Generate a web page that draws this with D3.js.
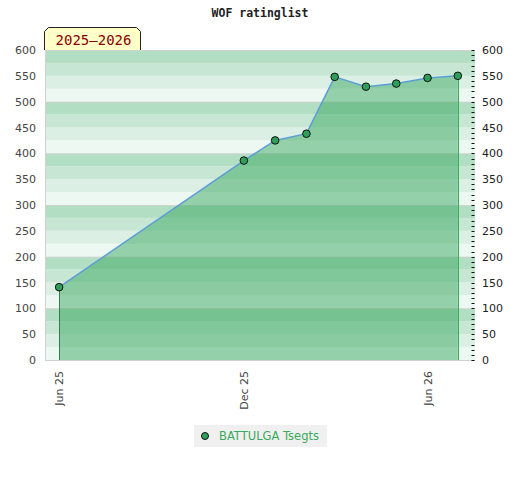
<!DOCTYPE html>
<html>
<head>
    <title>WOF ratinglist</title>
    <script src="https://d3js.org/d3.v7.min.js"></script>
  <style>
        body { margin: 0; background: #fff; }
        .axis text { font-family: "DejaVu Sans", sans-serif; font-size: 11px; }
        .axis path, .axis line { stroke: none; }
  </style>
</head>
<body>
    <div id="chart"></div>

  <script>
        // Data
        const ratingDates = ["2025-06-01", "2025-12-01", "2026-01-01", "2026-02-01", "2026-03-01",
                             "2026-04-01", "2026-05-01", "2026-06-01", "2026-07-01"];
        const ratings = [141, 386, 425, 438, 548, 529, 535, 546, 550];
        const xTickDates = ["2025-06-01", "2025-12-01", "2026-06-01"];
        const yTicks = [0, 50, 100, 150, 200, 250, 300, 350, 400, 450, 500, 550, 600];
        const playerName = "BATTULGA Tsegts";
        const seasonLabel = "2025\u20132026";
        const chartTitle = "WOF ratinglist";

        const width = 520, height = 480;
        const plot = { left: 45, right: 475, top: 50, bottom: 360 };

        const parse = d3.utcParse("%Y-%m-%d");
        const data = ratingDates.map((d, i) => ({ date: parse(d), rating: ratings[i] }));

        const svg = d3.select("#chart").append("svg")
            .attr("width", width)
            .attr("height", height);

        const x = d3.scaleUtc()
            .domain([parse("2025-05-18"), parse("2026-07-18")])
            .range([plot.left, plot.right]);

        const y = d3.scaleLinear()
            .domain([0, 600])
            .range([plot.bottom, plot.top]);

        // background bands, 4 per hundred
        const bandColors = ["#b2dec3", "#c7e6d3", "#dcefe4", "#eef8f2"];
        const bands = d3.range(0, 600, 25);
        svg.append("g").selectAll("rect")
            .data(bands)
            .join("rect")
            .attr("x", plot.left)
            .attr("width", plot.right - plot.left)
            .attr("y", d => y(d + 25))
            .attr("height", d => y(d) - y(d + 25))
            .attr("fill", d => bandColors[3 - (d % 100) / 25]);

        // grid lines every 100
        svg.append("g").selectAll("line")
            .data(d3.range(0, 601, 100))
            .join("line")
            .attr("x1", plot.left)
            .attr("x2", plot.right)
            .attr("y1", d => y(d) + 0.5)
            .attr("y2", d => y(d) + 0.5)
            .attr("stroke", "#d2d2d2");

        svg.append("line")
            .attr("x1", plot.left + 0.5).attr("x2", plot.left + 0.5)
            .attr("y1", plot.top).attr("y2", plot.bottom)
            .attr("stroke", "#d2d2d2");

        // area under the rating line
        const area = d3.area()
            .x(d => x(d.date))
            .y0(y(0))
            .y1(d => y(d.rating));

        svg.append("path")
            .datum(data)
            .attr("d", area)
            .attr("fill", "#3aa860")
            .attr("fill-opacity", 0.5);

        const first = data[0], last = data[data.length - 1];
        const crisp = v => Math.round(v) + 0.5;
        svg.append("line")
            .attr("x1", crisp(x(first.date))).attr("x2", crisp(x(first.date)))
            .attr("y1", y(first.rating)).attr("y2", y(0))
            .attr("stroke", "#2f8046").attr("stroke-width", 1);
        svg.append("line")
            .attr("x1", crisp(x(last.date))).attr("x2", crisp(x(last.date)))
            .attr("y1", y(last.rating)).attr("y2", y(0))
            .attr("stroke", "#2eb054").attr("stroke-width", 1);

        const line = d3.line()
            .x(d => x(d.date))
            .y(d => y(d.rating));

        svg.append("path")
            .datum(data)
            .attr("d", line)
            .attr("fill", "none")
            .attr("stroke", "#5c9fd6")
            .attr("stroke-width", 1.5);

        svg.append("g").selectAll("circle")
            .data(data)
            .join("circle")
            .attr("cx", d => x(d.date))
            .attr("cy", d => y(d.rating))
            .attr("r", 3.8)
            .attr("fill", "#2f9e58")
            .attr("stroke", "#111")
            .attr("stroke-width", 1);

        // left axis: labels only
        const leftAxis = svg.append("g")
            .attr("class", "axis")
            .attr("transform", `translate(${plot.left},0)`)
            .call(d3.axisLeft(y).tickValues(yTicks).tickSize(0).tickPadding(9));
        leftAxis.selectAll("text").attr("fill", "#444");

        // right axis: minor dashes every 10, labels every 50
        svg.append("g").selectAll("line")
            .data(d3.range(0, 601, 10))
            .join("line")
            .attr("x1", plot.right - 3.5)
            .attr("x2", plot.right - 0.5)
            .attr("y1", d => Math.round(y(d)) + 0.5)
            .attr("y2", d => Math.round(y(d)) + 0.5)
            .attr("stroke", "#111");

        const rightAxis = svg.append("g")
            .attr("class", "axis")
            .attr("transform", `translate(${plot.right},0)`)
            .call(d3.axisRight(y).tickValues(yTicks).tickSize(0).tickPadding(7));
        rightAxis.selectAll("text").attr("fill", "#222");

        // bottom axis: rotated month labels
        const bottomAxis = svg.append("g")
            .attr("class", "axis")
            .attr("transform", `translate(0,${plot.bottom})`)
            .call(d3.axisBottom(x)
                .tickValues(xTickDates.map(parse))
                .tickFormat(d3.utcFormat("%b %y"))
                .tickSize(0));
        bottomAxis.selectAll("text")
            .attr("fill", "#444")
            .attr("transform", "rotate(-90)")
            .attr("text-anchor", "end")
            .attr("x", -11)
            .attr("y", 0)
            .attr("dy", "0.35em");

        // title
        svg.append("text")
            .attr("x", 260)
            .attr("y", 17)
            .attr("text-anchor", "middle")
            .attr("font-family", "DejaVu Sans Mono, monospace")
            .attr("font-weight", "bold")
            .attr("font-size", "11.5px")
            .attr("fill", "#222")
            .text(chartTitle);

        // season tab
        const tab = { x0: 44.5, x1: 140.5, y0: 27.5, y1: 50, c: 4 };
        svg.append("path")
            .attr("d", `M${tab.x0},${tab.y1} L${tab.x0},${tab.y0 + tab.c} L${tab.x0 + tab.c},${tab.y0}
                        L${tab.x1 - tab.c},${tab.y0} L${tab.x1},${tab.y0 + tab.c} L${tab.x1},${tab.y1}`)
            .attr("fill", "#ffffc8")
            .attr("stroke", "#222")
            .attr("stroke-width", 1);
        svg.append("text")
            .attr("x", 93.5)
            .attr("y", 45)
            .attr("text-anchor", "middle")
            .attr("font-family", "DejaVu Sans Mono, monospace")
            .attr("font-size", "14px")
            .attr("fill", "#8b0000")
            .text(seasonLabel);

        // legend
        const legend = svg.append("g").attr("transform", "translate(194,425)");
        legend.append("rect")
            .attr("width", 133)
            .attr("height", 22)
            .attr("fill", "#f0f0f0");
        legend.append("circle")
            .attr("cx", 11)
            .attr("cy", 11)
            .attr("r", 3.5)
            .attr("fill", "#2f9e58")
            .attr("stroke", "#111");
        legend.append("text")
            .attr("x", 25)
            .attr("y", 15)
            .attr("font-family", "DejaVu Sans, sans-serif")
            .attr("font-size", "11.5px")
            .attr("fill", "#3aaa5c")
            .text(playerName);
  </script>
</body>
</html>
